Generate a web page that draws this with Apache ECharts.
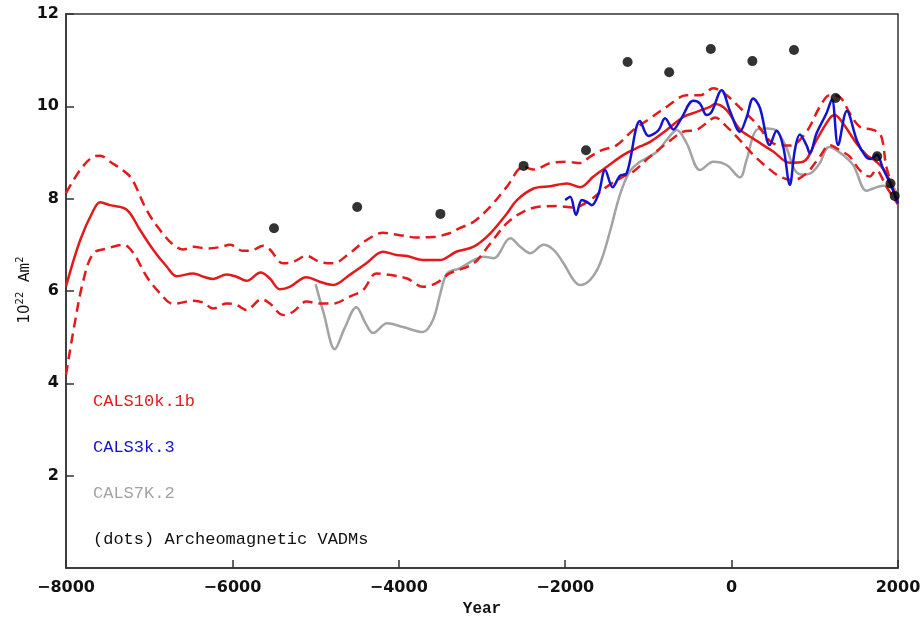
<!DOCTYPE html>
<html>
<head>
<meta charset="utf-8">
<script src="https://cdn.jsdelivr.net/npm/echarts@6/dist/echarts.min.js"></script>
<style>html,body{margin:0;padding:0;background:#fff;overflow:hidden}#c{width:922px;height:618px}</style>
</head>
<body>
<div id="c"></div>
<script>
// CALS10k.1b mean [year, 10^22 Am^2]
const cals10kMean = [[-8000,6.1],[-7830,7.1],[-7670,7.75],[-7590,7.92],[-7470,7.86],[-7270,7.76],[-7110,7.32],[-6950,6.89],[-6790,6.53],[-6670,6.32],[-6470,6.38],[-6350,6.31],[-6230,6.26],[-6070,6.36],[-5950,6.31],[-5830,6.22],[-5660,6.4],[-5550,6.27],[-5430,6.04],[-5310,6.09],[-5110,6.3],[-4950,6.2],[-4790,6.13],[-4590,6.35],[-4390,6.6],[-4190,6.85],[-4030,6.78],[-3900,6.76],[-3710,6.67],[-3510,6.67],[-3310,6.85],[-3100,6.96],[-2900,7.25],[-2700,7.68],[-2580,7.97],[-2380,8.22],[-2180,8.27],[-1980,8.33],[-1820,8.25],[-1660,8.48],[-1500,8.69],[-1300,8.95],[-1100,9.13],[-980,9.23],[-780,9.49],[-580,9.77],[-420,9.88],[-260,9.99],[-200,10.05],[-60,9.92],[100,9.5],[260,9.3],[500,9.02],[700,8.78],[860,8.8],[1020,9.27],[1180,9.74],[1240,9.81],[1340,9.63],[1500,9.2],[1620,8.95],[1740,8.8],[1860,8.55],[2000,7.88]];
// CALS10k.1b upper bound
const cals10kUpper = [[-8000,8.12],[-7830,8.62],[-7670,8.91],[-7590,8.93],[-7470,8.8],[-7270,8.55],[-7190,8.37],[-7030,7.75],[-6870,7.32],[-6710,7.0],[-6590,6.9],[-6470,6.96],[-6310,6.92],[-6150,6.95],[-6030,7.0],[-5870,6.87],[-5750,6.89],[-5630,6.98],[-5550,6.9],[-5390,6.6],[-5270,6.63],[-5110,6.76],[-4950,6.63],[-4790,6.6],[-4590,6.82],[-4390,7.1],[-4190,7.26],[-3990,7.21],[-3790,7.16],[-3590,7.17],[-3390,7.25],[-3270,7.36],[-3100,7.5],[-2900,7.83],[-2700,8.26],[-2500,8.69],[-2380,8.63],[-2180,8.77],[-1980,8.8],[-1820,8.77],[-1700,8.91],[-1560,9.05],[-1380,9.16],[-1180,9.49],[-980,9.74],[-780,9.99],[-540,10.24],[-380,10.24],[-220,10.39],[-60,10.24],[100,9.97],[300,9.62],[500,9.2],[700,9.15],[900,9.45],[1060,9.99],[1180,10.24],[1300,10.2],[1420,9.85],[1540,9.56],[1700,9.49],[1780,9.41],[1820,9.2],[1860,8.69],[2000,7.9]];
// CALS10k.1b lower bound
const cals10kLower = [[-8000,4.18],[-7910,5.15],[-7790,6.24],[-7670,6.82],[-7510,6.92],[-7310,7.0],[-7190,6.82],[-7030,6.31],[-6870,5.95],[-6710,5.72],[-6470,5.79],[-6350,5.75],[-6230,5.62],[-6070,5.73],[-5950,5.7],[-5830,5.59],[-5650,5.82],[-5550,5.73],[-5390,5.48],[-5270,5.55],[-5110,5.77],[-4950,5.73],[-4790,5.73],[-4590,5.88],[-4430,6.02],[-4270,6.38],[-4110,6.35],[-3900,6.27],[-3710,6.09],[-3550,6.17],[-3390,6.38],[-3100,6.6],[-2900,7.03],[-2700,7.47],[-2500,7.72],[-2300,7.83],[-2100,7.84],[-1900,7.81],[-1700,7.97],[-1500,8.26],[-1300,8.48],[-1180,8.59],[-980,8.91],[-780,9.2],[-580,9.45],[-420,9.49],[-260,9.7],[-200,9.76],[-60,9.56],[100,9.27],[260,8.95],[420,8.69],[580,8.48],[740,8.4],[900,8.55],[1060,8.91],[1180,9.16],[1300,9.05],[1420,8.91],[1540,8.62],[1660,8.48],[1740,8.62],[1780,8.55],[1860,8.26],[2000,7.88]];
// CALS3k.3
const cals3k = [[-2000,7.97],[-1940,8.04],[-1870,7.65],[-1800,7.97],[-1740,7.93],[-1680,7.86],[-1600,8.1],[-1520,8.62],[-1430,8.25],[-1340,8.5],[-1260,8.55],[-1100,9.68],[-1000,9.36],[-880,9.48],[-800,9.74],[-700,9.5],[-610,9.72],[-460,10.12],[-380,10.06],[-300,9.81],[-240,9.88],[-120,10.35],[-20,9.9],[100,9.45],[180,9.76],[260,10.17],[340,9.97],[460,9.16],[540,9.47],[620,9.13],[700,8.3],[760,9.05],[820,9.39],[900,9.16],[940,8.98],[1020,9.41],[1140,9.85],[1205,10.15],[1280,9.16],[1385,9.9],[1510,9.24],[1610,8.92],[1670,8.86],[1745,8.95],[1820,8.65],[1900,8.35],[2000,7.9]];
// CALS7K.2
const cals7k = [[-5000,6.15],[-4900,5.5],[-4770,4.74],[-4650,5.2],[-4510,5.65],[-4400,5.3],[-4310,5.09],[-4140,5.3],[-3950,5.22],[-3710,5.11],[-3590,5.37],[-3500,5.95],[-3420,6.38],[-3270,6.49],[-3100,6.67],[-2980,6.74],[-2860,6.71],[-2660,7.14],[-2540,6.96],[-2420,6.82],[-2260,7.0],[-2140,6.89],[-2020,6.6],[-1900,6.24],[-1820,6.13],[-1700,6.24],[-1580,6.6],[-1460,7.3],[-1340,8.1],[-1220,8.6],[-1100,8.8],[-1000,8.9],[-900,9.01],[-780,9.27],[-660,9.49],[-540,9.2],[-380,8.62],[-220,8.8],[-60,8.73],[100,8.46],[180,8.84],[300,9.49],[420,9.52],[540,9.47],[660,9.1],[760,8.62],[860,8.52],[960,8.56],[1060,8.77],[1170,9.12],[1300,9.0],[1460,8.73],[1620,8.17],[1700,8.22],[1820,8.28],[1940,8.24],[2000,8.05]];
// Archeomagnetic VADMs
const vadmYears = [-5500,-4500,-3500,-2500,-1750,-1250,-750,-250,250,750,1250,1750,1910,1960];
const vadmValues = [7.36,7.82,7.67,8.71,9.05,10.96,10.74,11.24,10.98,11.22,10.18,8.92,8.33,8.06];
// axis ticks
const xTicks = [-8000,-6000,-4000,-2000,0,2000];
const yTicks = [2,4,6,8,10,12];
const legendLabels = ['CALS10k.1b','CALS3k.3','CALS7K.2','(dots) Archeomagnetic VADMs'];

const RED = '#e31a1c', BLUE = '#1414cc', GRAY = '#a3a3a3';
const chart = echarts.init(document.getElementById('c'), null, {renderer:'canvas', width:922, height:618});
const mono = "'Courier New','Liberation Mono','DejaVu Sans Mono',monospace";
chart.setOption({
  animation:false,
  backgroundColor:'#fff',
  grid:{left:66,right:24,top:14,bottom:50,containLabel:false,outerBoundsMode:'none',show:true,borderColor:'#333',borderWidth:1.5,backgroundColor:'transparent'},
  xAxis:{type:'value',min:xTicks[0],max:xTicks[xTicks.length-1],interval:2000,
    name:'Year',nameLocation:'middle',nameGap:33,nameMoveOverlap:false,
    nameTextStyle:{fontFamily:mono,fontSize:16,fontWeight:'bold',color:'#111'},
    axisLine:{onZero:false,lineStyle:{color:'#333',width:1.5}},
    axisTick:{inside:true,length:8,lineStyle:{color:'#333',width:1.5}},
    axisLabel:{margin:12,fontFamily:"'DejaVu Sans',sans-serif",fontWeight:'bold',fontSize:16,color:'#111',
      formatter:v=>v<0?'\u2212'+Math.abs(v):String(v)},
    splitLine:{show:false}},
  yAxis:{type:'value',min:0,max:12,interval:2,
    axisLine:{onZero:false,lineStyle:{color:'#333',width:1.5}},
    axisTick:{inside:true,length:8,lineStyle:{color:'#333',width:1.5}},
    axisLabel:{margin:7,showMinLabel:false,fontFamily:"'DejaVu Sans',sans-serif",fontWeight:'bold',fontSize:16,color:'#111'},
    splitLine:{show:false}},
  series:[
    {type:'line',data:cals7k,showSymbol:false,smooth:0.35,lineStyle:{color:GRAY,width:2.5},z:2},
    {type:'line',data:cals10kUpper,showSymbol:false,smooth:0.35,lineStyle:{color:RED,width:2.5,type:[10,6]},z:3},
    {type:'line',data:cals10kLower,showSymbol:false,smooth:0.35,lineStyle:{color:RED,width:2.5,type:[10,6]},z:3},
    {type:'line',data:cals10kMean,showSymbol:false,smooth:0.35,lineStyle:{color:RED,width:2.5},z:4},
    {type:'line',data:cals3k,showSymbol:false,smooth:0.35,lineStyle:{color:BLUE,width:2.5},z:5},
    {type:'scatter',data:vadmYears.map((y,i)=>[y,vadmValues[i]]),symbol:'circle',symbolSize:10,itemStyle:{color:'#000'},z:6}
  ],
  graphic:[
    {type:'text',x:24,y:290,rotation:Math.PI/2,
      style:{text:'{a|10}{s|22}{b| Am}{s|2}',align:'center',verticalAlign:'middle',
        rich:{
          a:{fontFamily:"'DejaVu Sans',sans-serif",fontSize:15,fill:'#111',verticalAlign:'bottom'},
          b:{fontFamily:mono,fontSize:16,fill:'#111',verticalAlign:'bottom'},
          s:{fontFamily:"'DejaVu Sans',sans-serif",fontSize:10,fill:'#111',verticalAlign:'top',padding:[0,0,7,0]}}}},
    {type:'text',left:93,top:393,style:{text:legendLabels[0],fill:RED,font:"17px "+mono}},
    {type:'text',left:93,top:439,style:{text:legendLabels[1],fill:BLUE,font:"17px "+mono}},
    {type:'text',left:93,top:485,style:{text:legendLabels[2],fill:GRAY,font:"17px "+mono}},
    {type:'text',left:93,top:531,style:{text:legendLabels[3],fill:'#111',font:"17px "+mono}}
  ]
});
</script>
</body>
</html>
